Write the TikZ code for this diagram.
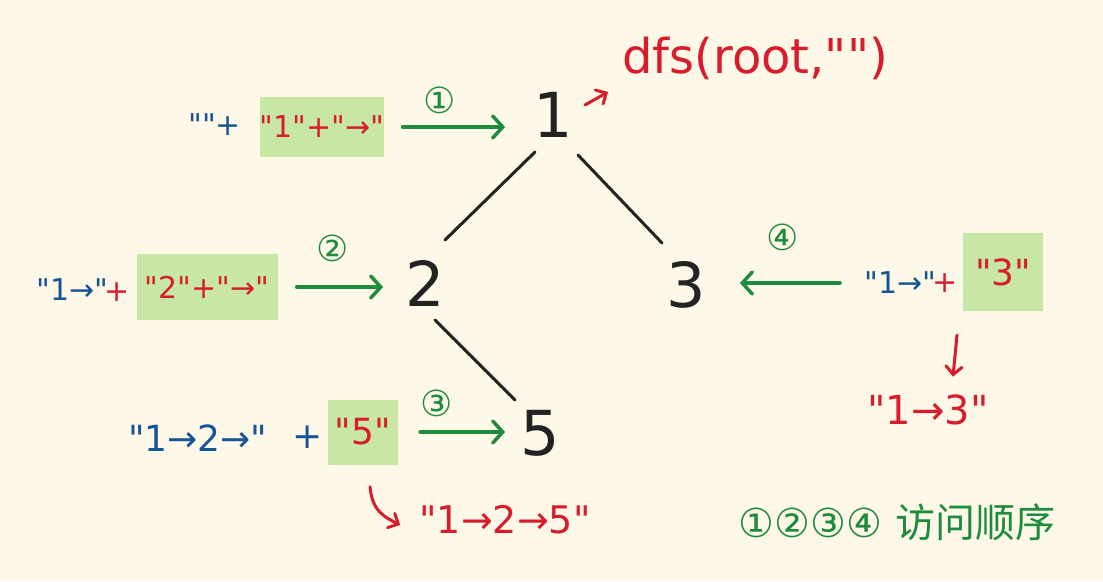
\documentclass[tikz,border=0pt]{standalone}
\usepackage{fontspec}
\setmainfont{DejaVu Sans}[Ligatures=TeXOff]
\newfontfamily\cjkfont{Noto Sans CJK SC}
\usetikzlibrary{arrows.meta}
\definecolor{paper}{RGB}{253,248,231}
\definecolor{inkblue}{RGB}{22,84,150}
\definecolor{inkred}{RGB}{216,28,44}
\definecolor{inkgreen}{RGB}{30,140,60}
\definecolor{marker}{RGB}{200,230,164}
\definecolor{inkblack}{RGB}{35,35,35}
\newcommand{\fs}[1]{\fontsize{#1}{#1}\selectfont}
\begin{document}
\begin{tikzpicture}[x=1pt,y=-1pt,
  tree/.style={font=\fs{62}, text=inkblack, inner sep=0pt},
  edge/.style={draw=inkblack, line width=3pt, line cap=round},
  expr/.style={font=\fs{30}, inner sep=0pt},
  hl/.style={fill=marker, text=inkred, font=\fs{30}, inner sep=0pt},
  garrow/.style={draw=inkgreen, line width=3.5pt, line cap=round,
    -{Straight Barb[length=10pt,width=22pt,line cap=round]}},
  rarrow/.style={draw=inkred, line width=3pt, line cap=round,
    -{Straight Barb[length=8pt,width=16pt,line cap=round]}},
  ord/.style={font=\fs{36}, text=inkgreen, inner sep=0pt},
  result/.style={font=\fs{38}, text=inkred, inner sep=0pt}
]
\fill[paper] (0,0) rectangle (1103,581);

% tree
\node[tree] (n1) at (553,115) {1};
\node[tree] (n2) at (425,283) {2};
\node[tree] (n3) at (686,285) {3};
\node[tree] (n5) at (540,433) {5};
\draw[edge] ([shift={(-18,37)}]n1.center) -- ([shift={(20,-43)}]n2.center);
\draw[edge] ([shift={(25,40)}]n1.center) -- ([shift={(-24,-42)}]n3.center);
\draw[edge] ([shift={(10,37)}]n2.center) -- ([shift={(-25,-33)}]n5.center);

% initial call
\node[font=\fs{48}, text=inkred, inner sep=0pt] (dfs) at (755,58) {dfs(root,"")};
\draw[rarrow] ([shift={(32,-10)}]n1.center) -- ([shift={(-14,34)}]dfs.west);

% visit 1
\node[expr, text=inkblue, anchor=west] (b1) at (188,125) {""+};
\node[hl, minimum width=115, minimum height=60] (h1) at (322,127) {"1"+"→"};
\draw[garrow, shorten <=18, shorten >=28] (h1.east) -- (h1.east -| n1.west);
\node[ord] (o1) at (440,100) {①};

% visit 2
\node[expr, text=inkblue, anchor=west] (b2) at (36,290) {"1→"};
\node[expr, text=inkred] (p2) at (117,292) {+};
\node[hl, minimum width=141, minimum height=66] (h2) at (207,287) {"2"+"→"};
\draw[garrow, shorten <=19, shorten >=22] (h2.east) -- (h2.east -| n2.west);
\node[ord] (o2) at (333,248) {②};

% visit 3 (leaf 5)
\node[expr, text=inkblue, anchor=west, font=\fs{36}] (b4) at (128,438) {"1→2→"};
\node[expr, text=inkblue, font=\fs{36}] (p4) at (308,437) {+};
\node[hl, minimum width=70, minimum height=65, font=\fs{36}] (h4) at (363,432) {"5"};
\draw[garrow, shorten <=22, shorten >=15] (h4.east) -- (h4.east -| n5.west);
\node[ord] (o3) at (437,403) {③};
\node[result] (r4) at (505,520) {"1→2→5"};
\draw[rarrow] ([shift={(7,22)}]h4.south) .. controls +(2,24) and +(-16,-8) .. ([shift={(-19,5)}]r4.west);

% visit 4 (leaf 3)
\node[expr, text=inkblue, anchor=west] (b3) at (864,283) {"1→"};
\node[expr, text=inkred] (p3) at (945,283) {+};
\node[hl, minimum width=80, minimum height=78, font=\fs{36}] (h3) at (1003,272) {"3"};
\draw[garrow, shorten <=24, shorten >=34] (b3.west) -- (b3.west -| n3.east);
\node[ord] (o4) at (783,237) {④};
\node[result, font=\fs{40}] (r3) at (928,410) {"1→3"};
\draw[rarrow] ([shift={(-46,63)}]h3.center) -- ([shift={(25,-18)}]r3.north);

% legend
\node[ord, font=\fs{40}] (legend) at (897,522) {①②③④ {\cjkfont 访问顺序}};
\end{tikzpicture}
\end{document}
